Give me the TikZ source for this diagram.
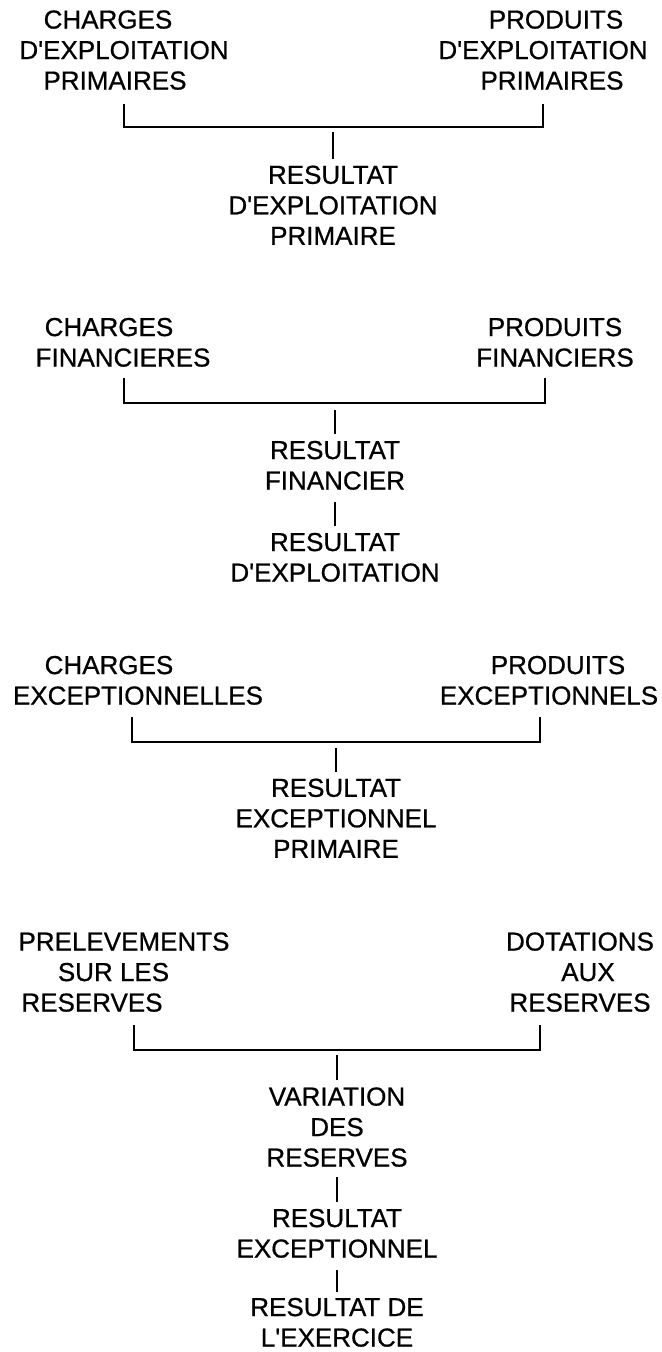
\documentclass[tikz,border=0pt]{standalone}
\usepackage{fontspec}
\setmainfont{Liberation Sans}[UprightFeatures={FakeBold=0.7}]
\newcommand{\shft}[2]{\hspace*{#1}#2\hspace*{-#1}}
\newcommand{\aq}{\textquotesingle}
\begin{document}
\begin{tikzpicture}[x=1bp,y=-1bp,
  lbl/.style={inner sep=0pt, align=center, anchor=south,
    font=\fontsize{26bp}{30.5bp}\selectfont},
  conn/.style={line width=2.3bp}]
\useasboundingbox (0,0) rectangle (662,1352);

% ---- block 1
\node[lbl] (L1) at (124,90) {\shft{-16bp}{CHARGES}\\D\aq EXPLOITATION\\\shft{-9bp}{PRIMAIRES}};
\node[lbl] (R1) at (543,90) {\shft{13bp}{PRODUITS}\\D\aq EXPLOITATION\\\shft{9bp}{PRIMAIRES}};
\node[lbl] (M1) at (333,245) {RESULTAT\\D\aq EXPLOITATION\\PRIMAIRE};
\coordinate (b1l) at (124,104);
\coordinate (b1lb) at (124,127);
\coordinate (b1r) at (543,104);
\coordinate (j1) at (333,132);
\draw[conn] (b1l) -- (b1lb) -| (b1r);
\draw[conn] (j1) -- ([yshift=6bp]M1.north);

% ---- block 2
\node[lbl] (L2) at (123,367) {\shft{-14bp}{CHARGES}\\FINANCIERES};
\node[lbl] (R2) at (555,367) {PRODUITS\\FINANCIERS};
\node[lbl] (M2a) at (335,490) {RESULTAT\\FINANCIER};
\node[lbl] (M2b) at (335,582) {RESULTAT\\D\aq EXPLOITATION};
\coordinate (b2l) at (124,378);
\coordinate (b2lb) at (124,403);
\coordinate (b2r) at (545,378);
\coordinate (j2) at (335,410);
\draw[conn] (b2l) -- (b2lb) -| (b2r);
\draw[conn] (j2) -- ([yshift=7bp]M2a.north);
\draw[conn] ([yshift=-12bp]M2a.south) -- ([yshift=7bp]M2b.north);

% ---- block 3
\node[lbl] (L3) at (138,705) {\shft{-29bp}{CHARGES}\\EXCEPTIONNELLES};
\node[lbl] (R3) at (549,705) {\shft{9bp}{PRODUITS}\\EXCEPTIONNELS};
\node[lbl] (M3) at (336,858) {RESULTAT\\EXCEPTIONNEL\\PRIMAIRE};
\coordinate (b3l) at (132,717);
\coordinate (b3lb) at (132,742);
\coordinate (b3r) at (540,717);
\coordinate (j3) at (336,748);
\draw[conn] (b3l) -- (b3lb) -| (b3r);
\draw[conn] (j3) -- ([yshift=6bp]M3.north);

% ---- block 4
\node[lbl] (L4) at (124,1012) {PRELEVEMENTS\\\shft{-21bp}{SUR LES}\\\shft{-32bp}{RESERVES}};
\node[lbl] (R4) at (580,1012) {DOTATIONS\\\shft{16bp}{AUX}\\RESERVES};
\node[lbl] (M4a) at (337,1167) {VARIATION\\DES\\RESERVES};
\node[lbl] (M4b) at (337,1258) {RESULTAT\\EXCEPTIONNEL};
\node[lbl] (M4c) at (337,1347) {RESULTAT DE\\L\aq EXERCICE};
\coordinate (b4l) at (134,1025);
\coordinate (b4lb) at (134,1050);
\coordinate (b4r) at (540,1025);
\coordinate (j4) at (337,1055);
\draw[conn] (b4l) -- (b4lb) -| (b4r);
\draw[conn] (j4) -- ([yshift=7bp]M4a.north);
\draw[conn] ([yshift=-10bp]M4a.south) -- ([yshift=6.5bp]M4b.north);
\draw[conn] ([yshift=-12bp]M4b.south) -- ([yshift=5.5bp]M4c.north);
\end{tikzpicture}
\end{document}
